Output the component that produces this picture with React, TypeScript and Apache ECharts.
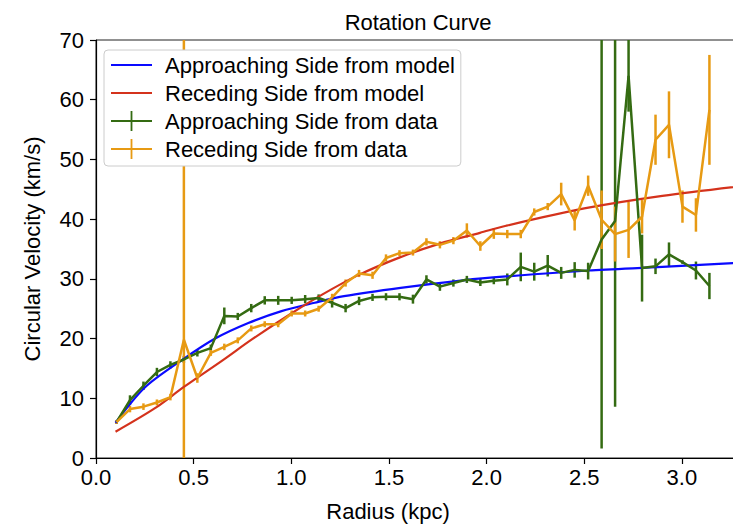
import React, { useEffect, useRef } from 'react';
import * as echarts from 'echarts';

// Radius (kpc) of each measured point
const radius = [
  0.105, 0.174, 0.243, 0.312, 0.381, 0.45, 0.519, 0.588, 0.657, 0.726,
  0.795, 0.864, 0.933, 1.002, 1.071, 1.14, 1.209, 1.278, 1.347, 1.416,
  1.485, 1.554, 1.623, 1.692, 1.761, 1.83, 1.899, 1.968, 2.037, 2.106,
  2.175, 2.244, 2.313, 2.382, 2.451, 2.52, 2.589, 2.658, 2.727, 2.796,
  2.865, 2.934, 3.003, 3.072, 3.141,
];

// Approaching side (data) velocity and error (km/s)
const approachV = [
  6.0, 9.7, 12.1, 14.4, 15.6, 16.5, 17.6, 18.4, 23.8, 23.7,
  25.1, 26.4, 26.4, 26.4, 26.6, 26.8, 26.0, 25.1, 26.3, 26.9,
  27.0, 27.0, 26.6, 29.9, 28.7, 29.3, 29.9, 29.4, 29.7, 29.9,
  32.0, 31.2, 32.2, 31.0, 31.5, 31.3, 36.6, 39.7, 64.0, 31.8,
  32.1, 34.1, 32.8, 31.4, 28.8,
];
const approachErr = [
  0.3, 0.8, 0.7, 0.7, 0.6, 0.6, 0.6, 0.6, 1.4, 0.6,
  0.7, 0.7, 0.75, 0.6, 0.7, 0.6, 0.8, 0.7, 0.7, 0.6,
  0.6, 0.6, 0.75, 0.7, 0.7, 0.6, 0.6, 0.6, 0.6, 1.0,
  2.4, 1.5, 1.8, 1.0, 1.3, 1.4, 35.0, 31.1, 6.0, 5.6,
  1.3, 2.0, 0.3, 1.5, 2.2,
];

// Receding side (data) velocity and error (km/s)
const recedeV = [
  6.0, 8.2, 8.6, 9.3, 10.2, 19.8, 13.4, 17.6, 18.6, 19.7,
  21.7, 22.4, 22.4, 24.2, 24.2, 25.0, 26.9, 29.3, 30.9, 30.6,
  33.5, 34.3, 34.4, 36.2, 35.7, 36.4, 38.1, 35.5, 37.6, 37.5,
  37.5, 41.2, 42.1, 44.2, 39.8, 45.6, 39.9, 37.5, 38.2, 40.4,
  53.3, 55.8, 42.1, 40.7, 58.3,
];
const recedeErr = [
  0.3, 0.55, 0.55, 0.5, 0.55, 58.0, 0.8, 0.5, 0.55, 0.5,
  0.5, 0.5, 0.5, 0.5, 0.5, 0.5, 0.6, 0.6, 0.6, 0.6,
  0.6, 0.5, 0.5, 0.6, 0.6, 0.6, 1.2, 0.8, 0.9, 0.7,
  0.7, 0.6, 0.6, 1.9, 1.7, 1.7, 4.9, 4.6, 4.7, 2.8,
  4.2, 5.6, 2.7, 2.8, 9.2,
];

// Model curves
const approachModelR = [0.1, 0.25, 0.44, 0.61, 0.78, 0.95, 1.12, 1.27, 1.56, 1.89, 2.1, 2.52, 2.9, 3.4];
const approachModelV = [5.9, 11.8, 16.4, 20.0, 22.6, 24.6, 26.0, 27.1, 28.5, 29.8, 30.4, 31.4, 32.0, 32.9];
const recedeModelR = [0.1, 0.3, 0.45, 0.65, 0.8, 1.0, 1.16, 1.335, 1.556, 1.76, 1.966, 2.1, 2.5, 2.9, 3.4];
const recedeModelV = [4.4, 8.3, 11.9, 16.4, 19.9, 24.2, 27.4, 30.5, 33.6, 35.9, 37.7, 38.9, 41.8, 43.9, 45.9];

const names = [
  'Approaching Side from model',
  'Receding Side from model',
  'Approaching Side from data',
  'Receding Side from data',
];

const BLUE = '#0a0aff';
const RED = '#d4321c';
const GREEN = '#346b12';
const ORANGE = '#e79a13';
const FONT = '"Liberation Sans", Arial, Helvetica, sans-serif';

const LINE_ICON = 'path://M0,9L41,9L41,11L0,11Z';
const CROSS_ICON = 'path://M0,9L19.6,9L19.6,0L21.4,0L21.4,9L41,9L41,11L21.4,11L21.4,20L19.6,20L19.6,11L0,11Z';

function errorBars(name: string, color: string, vals: number[], errs: number[]) {
  return {
    type: 'custom',
    name,
    clip: true,
    silent: true,
    data: radius.map((r, i) => [r, vals[i] - errs[i], vals[i] + errs[i]]),
    encode: { x: 0, y: [1, 2] },
    renderItem: (_p: any, api: any) => {
      const lo = api.coord([api.value(0), api.value(1)]);
      const hi = api.coord([api.value(0), api.value(2)]);
      return {
        type: 'line',
        shape: { x1: lo[0], y1: lo[1], x2: hi[0], y2: hi[1] },
        style: { stroke: color, lineWidth: 2.5 },
      };
    },
  };
}

function lineSeries(name: string, color: string, xs: number[], ys: number[], width: number, smooth: number | boolean) {
  return {
    type: 'line',
    name,
    data: xs.map((x, i) => [x, ys[i]]),
    symbol: 'none',
    smooth,
    clip: true,
    color,
    lineStyle: { color, width },
    emphasis: { disabled: true },
    silent: true,
  };
}

export default function App() {
  const ref = useRef<HTMLDivElement>(null);
  useEffect(() => {
    if (!ref.current) return;
    const chart = echarts.init(ref.current, undefined, { renderer: 'svg' });
    const axisFont = { fontFamily: FONT, fontSize: 22, color: '#000' };
    chart.setOption({
      animation: false,
      backgroundColor: '#fff',
      title: {
        text: 'Rotation Curve',
        left: 413,
        top: 6,
        textAlign: 'center',
        textStyle: { fontFamily: FONT, fontSize: 22, fontWeight: 'normal', color: '#000' },
      },
      grid: {
        left: 96, right: 0, top: 40, bottom: 70,
        show: true, borderColor: '#222', borderWidth: 1, backgroundColor: 'transparent',
      },
      legend: {
        orient: 'vertical',
        left: 104,
        top: 50,
        padding: [4, 6, 6, 7],
        itemWidth: 41,
        itemHeight: 20,
        itemGap: 6,
        selectedMode: false,
        backgroundColor: '#fff',
        borderColor: '#cccccc',
        borderWidth: 1,
        borderRadius: 4,
        itemStyle: { borderWidth: 0 },
        textStyle: { ...axisFont, padding: [0, 0, 0, 8] },
        data: [
          { name: names[0], icon: LINE_ICON },
          { name: names[1], icon: LINE_ICON },
          { name: names[2], icon: CROSS_ICON },
          { name: names[3], icon: CROSS_ICON },
        ],
      },
      xAxis: {
        type: 'value',
        min: 0,
        max: 3.4,
        interval: 0.5,
        name: 'Radius (kpc)',
        nameLocation: 'middle',
        nameGap: 42,
        nameTextStyle: { ...axisFont, padding: [0, 80, 0, 0] },
        axisLine: { show: true, onZero: false, lineStyle: { color: '#000', width: 1.2 } },
        axisTick: { show: true, inside: false, length: 6, lineStyle: { color: '#000', width: 1.2 } },
        axisLabel: { ...axisFont, margin: 8, showMaxLabel: false, formatter: (v: number) => v.toFixed(1) },
        splitLine: { show: false },
      },
      yAxis: {
        type: 'value',
        min: 0,
        max: 70,
        interval: 10,
        name: 'Circular Velocity (km/s)',
        nameLocation: 'middle',
        nameGap: 53,
        nameTextStyle: axisFont,
        axisLine: { show: true, lineStyle: { color: '#000', width: 1.2 } },
        axisTick: { show: true, inside: false, length: 6, lineStyle: { color: '#000', width: 1.2 } },
        axisLabel: { ...axisFont, margin: 12 },
        splitLine: { show: false },
      },
      series: [
        lineSeries(names[0], BLUE, approachModelR, approachModelV, 2.2, 0.3),
        lineSeries(names[1], RED, recedeModelR, recedeModelV, 2.2, 0.3),
        lineSeries(names[2], GREEN, radius, approachV, 2.5, false),
        errorBars(names[2], GREEN, approachV, approachErr),
        lineSeries(names[3], ORANGE, radius, recedeV, 2.5, false),
        errorBars(names[3], ORANGE, recedeV, recedeErr),
      ],
    });
    return () => chart.dispose();
  }, []);
  return (
    <div style={{ position: 'fixed', left: 0, top: 0, width: 733, height: 528, overflow: 'hidden', background: '#fff' }}>
      <div ref={ref} style={{ width: 760, height: 528 }} />
    </div>
  );
}
